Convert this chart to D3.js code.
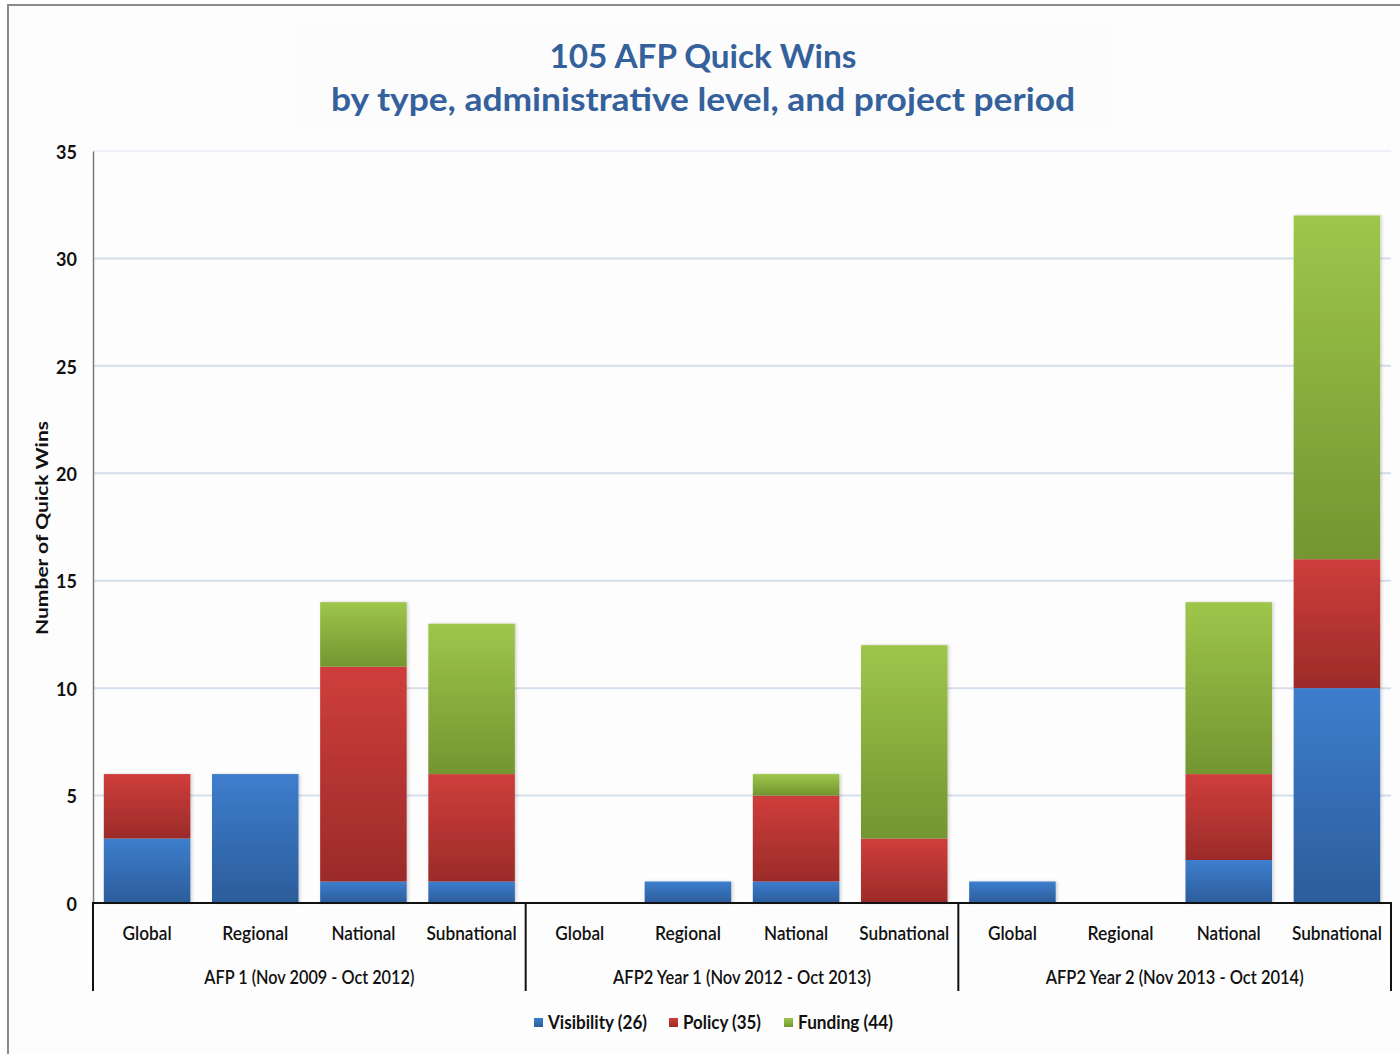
<!DOCTYPE html>
<html>
<head>
<meta charset="utf-8">
<script src="https://cdn.jsdelivr.net/npm/d3@7"></script>
<style>
  html, body { margin: 0; padding: 0; background: #ffffff; }
  svg { display: block; }
  text { font-family: Lato, "Open Sans", "DejaVu Sans", sans-serif; }
</style>
</head>
<body>
<svg id="chart" width="1400" height="1054"></svg>
<script>
// ---- data ----
const periods = ["AFP 1 (Nov 2009 - Oct 2012)", "AFP2 Year 1 (Nov 2012 - Oct 2013)", "AFP2 Year 2 (Nov 2013 - Oct 2014)"];
const levels = ["Global", "Regional", "National", "Subnational"];
const visibility = [3, 6, 1, 1,  0, 1, 1, 0,  1, 0, 2, 10];
const policy     = [3, 0, 10, 5, 0, 0, 4, 3,  0, 0, 4, 6];
const funding    = [0, 0, 3, 7,  0, 0, 1, 9,  0, 0, 8, 16];
const seriesNames = ["Visibility", "Policy", "Funding"];
const legendLabels = ["Visibility (26)", "Policy (35)", "Funding (44)"];
const yTicks = [0, 5, 10, 15, 20, 25, 30, 35];
const titleLines = ["105 AFP Quick Wins", "by type, administrative level, and project period"];
const yTitle = "Number of Quick Wins";

// ---- build table ----
const rows = [];
periods.forEach((p, pi) => levels.forEach((l, li) => {
  const i = pi * levels.length + li;
  rows.push({ key: pi + "|" + l, period: p, level: l, Visibility: visibility[i], Policy: policy[i], Funding: funding[i] });
}));

const svg = d3.select("#chart");
const W = 1400, H = 1054;
const m = { left: 93, right: 1391, top: 151, bottom: 903 };

// background & border
svg.append("rect").attr("x", 0).attr("y", 0).attr("width", W).attr("height", H).attr("fill", "#ffffff");
svg.append("rect").attr("x", 8).attr("y", 5).attr("width", W + 10).attr("height", H + 10)
  .attr("fill", "#fdfdfd").attr("stroke", "#8a8a8a").attr("stroke-width", 2);

const colors = {
  Visibility: ["#3d7ecd", "#2c5d9b"],
  Policy: ["#cf3e3b", "#9b2b29"],
  Funding: ["#9ec64b", "#739530"]
};
const defs = svg.append("defs");
seriesNames.forEach(s => {
  const g = defs.append("linearGradient").attr("id", "grad-" + s)
    .attr("x1", 0).attr("y1", 0).attr("x2", 0).attr("y2", 1);
  g.append("stop").attr("offset", "0%").attr("stop-color", colors[s][0]);
  g.append("stop").attr("offset", "100%").attr("stop-color", colors[s][1]);
});
const f = defs.append("filter").attr("id", "shadow").attr("x", "-10%").attr("y", "-10%").attr("width", "130%").attr("height", "130%");
f.append("feDropShadow").attr("dx", 1.5).attr("dy", 0).attr("stdDeviation", 1.5).attr("flood-color", "#000").attr("flood-opacity", 0.18);

// scales
const x = d3.scaleBand().domain(rows.map(d => d.key)).range([m.left, m.right]).paddingInner(0.2).paddingOuter(0.1);
const y = d3.scaleLinear().domain([0, 35]).range([m.bottom, m.top]);

// gridlines
svg.append("g").selectAll("line").data(yTicks.filter(t => t > 0)).join("line")
  .attr("x1", m.left).attr("x2", m.right)
  .attr("y1", d => y(d)).attr("y2", d => y(d))
  .attr("stroke", t => t === 35 ? "#eef2f8" : "#d5deeb").attr("stroke-width", 2);

// bars
const stack = d3.stack().keys(seriesNames)(rows);
const barG = svg.append("g").attr("filter", "url(#shadow)");
stack.forEach(layer => {
  barG.append("g").selectAll("rect").data(layer.filter(d => d[1] - d[0] > 0)).join("rect")
    .attr("x", d => x(d.data.key))
    .attr("width", x.bandwidth())
    .attr("y", d => y(d[1]))
    .attr("height", d => y(d[0]) - y(d[1]))
    .attr("fill", "url(#grad-" + layer.key + ")");
});

// y axis
const yAxis = d3.axisLeft(y).tickValues(yTicks).tickSize(0).tickPadding(16);
const yg = svg.append("g").attr("transform", `translate(${m.left},0)`).call(yAxis);
yg.select(".domain").attr("stroke", "#7a7a7a").attr("stroke-width", 1.5);
yg.selectAll("text").attr("font-size", 18).attr("font-weight", "bold").attr("fill", "#111")
  .attr("font-family", "Lato, sans-serif").attr("dy", "0.4em");

// y title
svg.append("text").attr("transform", `translate(48,${(m.top + m.bottom) / 2 + 1}) rotate(-90)`)
  .attr("text-anchor", "middle").attr("font-size", 17).attr("font-weight", "bold").attr("fill", "#111")
  .attr("textLength", 214).attr("lengthAdjust", "spacingAndGlyphs")
  .text(yTitle);

// x axis: level labels
const xAxis = d3.axisBottom(x).tickSize(0).tickPadding(0).tickFormat(k => k.split("|")[1]);
const xg = svg.append("g").attr("transform", `translate(0,${m.bottom})`).call(xAxis);
xg.select(".domain").remove();
const levelWidths = { Global: 49, Regional: 66, National: 64, Subnational: 90 };
xg.selectAll(".tick text").attr("y", 37).attr("dy", 0).attr("font-size", 19).attr("fill", "#111")
  .attr("font-weight", 600)
  .attr("textLength", k => levelWidths[k.split("|")[1]]).attr("lengthAdjust", "spacingAndGlyphs");

svg.append("line").attr("x1", m.left - 1).attr("x2", m.right + 1).attr("y1", m.bottom).attr("y2", m.bottom)
  .attr("stroke", "#111").attr("stroke-width", 2);

// group dividers & labels
const groupStep = (m.right - m.left) / periods.length;
const dividers = d3.range(periods.length + 1).map(i => m.left + i * groupStep);
svg.append("g").selectAll("line").data(dividers).join("line")
  .attr("x1", d => d).attr("x2", d => d).attr("y1", m.bottom).attr("y2", 991)
  .attr("stroke", "#111").attr("stroke-width", 2);
const periodWidths = [210, 258, 258];
svg.append("g").selectAll("text").data(periods).join("text")
  .attr("x", (d, i) => {
    const keys = rows.filter(r => r.period === d).map(r => r.key);
    return (x(keys[0]) + x(keys[keys.length - 1]) + x.bandwidth()) / 2;
  })
  .attr("y", 984).attr("text-anchor", "middle").attr("font-size", 19).attr("fill", "#111")
  .attr("font-weight", 600)
  .attr("textLength", (d, i) => periodWidths[i]).attr("lengthAdjust", "spacingAndGlyphs")
  .text(d => d);

// title
svg.append("rect").attr("x", 295).attr("y", 21).attr("width", 815).attr("height", 110).attr("fill", "#fcfcfc");
const titleWidths = [307, 744];
svg.append("g").selectAll("text").data(titleLines).join("text")
  .attr("x", 703).attr("y", (d, i) => 68 + i * 43)
  .attr("text-anchor", "middle").attr("font-size", 33).attr("font-weight", "bold").attr("fill", "#34619b")
  .attr("textLength", (d, i) => titleWidths[i]).attr("lengthAdjust", "spacingAndGlyphs")
  .text(d => d);

// legend
const legendX = [534, 669, 784];
const legendW = [99, 78, 95];
const lg = svg.append("g").selectAll("g").data(seriesNames).join("g")
  .attr("transform", (d, i) => `translate(${legendX[i]},1018)`);
lg.append("rect").attr("width", 9).attr("height", 9).attr("fill", d => `url(#grad-${d})`);
lg.append("text").attr("x", 14).attr("y", 11).attr("font-size", 19).attr("font-weight", "bold").attr("fill", "#111")
  .attr("textLength", (d, i) => legendW[i]).attr("lengthAdjust", "spacingAndGlyphs")
  .text((d, i) => legendLabels[i]);
</script>
</body>
</html>
